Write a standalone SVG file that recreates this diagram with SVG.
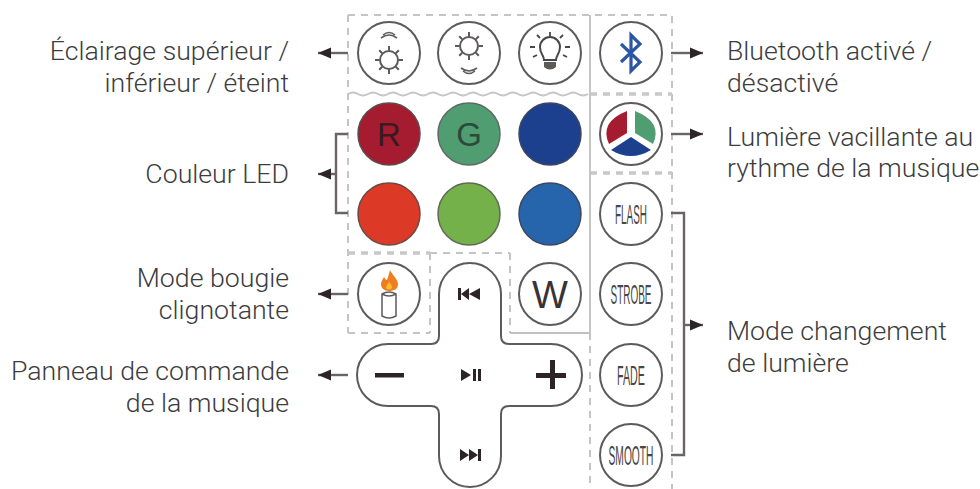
<svg xmlns="http://www.w3.org/2000/svg" width="980" height="489" viewBox="0 0 980 489">
<defs>
<marker id="ah" markerUnits="userSpaceOnUse" markerWidth="14" markerHeight="12" refX="13" refY="6" orient="auto-start-reverse"><path d="M0 0.5L13 6L0 11.5Z" fill="#2c2426"/></marker>
<g id="sunrays" stroke="#5f5a5a" stroke-width="2" fill="none"><circle r="9"/><path d="M0-9.5V-14M0 9.5V14M-9.5 0H-14M9.5 0H14M-6.8-6.8L-9.8-9.8M6.8-6.8L9.8-9.8M-6.8 6.8L-9.8 9.8M6.8 6.8L9.8 9.8"/></g>
</defs>
<style>
text{font-family:Roboto,"Liberation Sans",sans-serif}
.lb{font-size:26.7px;fill:#3c3c3e;font-weight:300}
.e{text-anchor:end}
.c{fill:#fff;stroke:#5f5a5a;stroke-width:2}
.d{fill:none;stroke:#c4c4c4;stroke-width:2;stroke-dasharray:7 6}
.d2{fill:none;stroke:#c8c8c8;stroke-width:3.5;stroke-dasharray:7 6}
.k{fill:none;stroke:#6a6466;stroke-width:2.4}
.a{marker-end:url(#ah)}
.bt{font-family:"Liberation Sans",sans-serif;font-size:28px;fill:#4a4546;text-anchor:middle}
.bl{font-family:"Liberation Sans",sans-serif;fill:#3a3335;text-anchor:middle}
.g{fill:#2c2426}
</style>
<rect width="980" height="489" fill="#fff"/>
<g id="zones">
<path class="d" d="M348 15H672V489M348 15V333M348 333H430M430 253V333M510 253V333M430 253H510M590 333V489"/>
<path class="d2" d="M590 94H672M590 173H672M348 253H430"/>
<path d="M590 15V333M510 333H590" fill="none" stroke="#c0c0c0" stroke-width="1.8"/>
<path d="M348 88q5 -3 10 0t10 0t10 0t10 0t10 0t10 0t10 0t10 0t10 0t10 0t10 0t10 0t10 0t10 0t10 0t10 0t10 0t10 0t10 0t10 0t10 0t10 0t10 0t10 0" transform="translate(0 6)" fill="none" stroke="#c4c4c4" stroke-width="1.8"/>
</g>
<g id="connectors">
<path class="k a" d="M348 53H318"/>
<path class="k" d="M348 134H336V213H348"/>
<path class="k a" d="M336 174H318"/>
<path class="k a" d="M348 294H318"/>
<path class="k a" d="M348 375H318"/>
<path class="k a" d="M671 53H703"/>
<path class="k a" d="M671 134H703"/>
<path class="k" d="M671 213H684V455H671"/>
<path class="k a" d="M684 325H703"/>
</g>
<g id="btn-upper"><circle class="c" cx="389" cy="53" r="31"/><use href="#sunrays" x="389" y="60"/><path d="M381 38Q389 32 397 38M383 35Q389 30 395 35" fill="none" stroke="#5f5a5a" stroke-width="1.6"/></g>
<g id="btn-lower"><circle class="c" cx="469" cy="53" r="31"/><use href="#sunrays" x="469" y="46"/><path d="M461 68Q469 74 477 68M463 71Q469 76 475 71" fill="none" stroke="#5f5a5a" stroke-width="1.6"/></g>
<g id="btn-off"><circle class="c" cx="550" cy="53" r="31"/><path d="M544 60C544 55 540 54 540 47A10 10 0 0 1 560 47C560 54 556 55 556 60Z" fill="none" stroke="#4a4546" stroke-width="2"/><path d="M550 32V36M537 35L540 38M563 35L560 38M530 47H535M570 47H565M533 57L537 55M567 57L563 55" stroke="#4a4546" stroke-width="1.8"/><path d="M544 62H556V67Q550 72 544 67Z" fill="#5f5a5a"/></g>
<g id="btn-bluetooth"><circle class="c" cx="631" cy="53" r="31"/><path d="M621 44L640 62L631 71V35L640 44L621 62" fill="none" stroke="#2a56a4" stroke-width="3.2"/></g>
<g id="btn-r"><circle cx="389" cy="134" r="31" fill="#a51c30" stroke="#5f4a4c" stroke-width="1.5"/><text class="bl" x="389" y="146" font-size="33" style="fill:#3a1a20">R</text></g>
<g id="btn-g"><circle cx="469" cy="134" r="31" fill="#4f9d71" stroke="#5f6a64" stroke-width="1.5"/><text class="bl" x="469" y="146" font-size="33" style="fill:#2c4a3a">G</text></g>
<g id="btn-b"><circle cx="550" cy="134" r="31" fill="#1c3f8e" stroke="#3c4660" stroke-width="1.5"/></g>
<g id="btn-rgb"><circle class="c" cx="631" cy="134" r="31"/>
<path d="M627 111V133L609 144Q599 122 627 111Z" fill="#a51c30"/>
<path d="M635 111V133L653 144Q663 122 635 111Z" fill="#4f9d71"/>
<path d="M631 137L651 150Q631 162 611 150Z" fill="#1c3f8e"/></g>
<g id="btn-red"><circle cx="389" cy="214" r="31" fill="#dc3a27" stroke="#6a4a44" stroke-width="1.5"/></g>
<g id="btn-green"><circle cx="469" cy="214" r="31" fill="#74b14b" stroke="#5f6a54" stroke-width="1.5"/></g>
<g id="btn-blue"><circle cx="550" cy="214" r="31" fill="#2665ab" stroke="#3c4660" stroke-width="1.5"/></g>
<g id="btn-flash"><circle class="c" cx="631" cy="214" r="31"/><text class="bt" x="631" y="224" textLength="32" lengthAdjust="spacingAndGlyphs">FLASH</text></g>
<g id="btn-candle"><circle class="c" cx="389" cy="294" r="31"/><path d="M390 270C392 275 398 279 398 284C398 289 394 291 389 291C384 291 381 288 381 284C381 281 383 279 384 277C385 279 386 280 387 280C388 277 389 274 390 270Z" fill="#ef7d22"/><path d="M389 282C391 284 392 286 392 288Q389 291 386 288C386 286 388 284 389 282Z" fill="#fbc02d"/><path d="M382 294V316Q389 320 396 316V294Q389 290 382 294ZM382 294Q389 298 396 294" fill="none" stroke="#5f5a5a" stroke-width="1.5"/></g>
<g id="btn-music"><path class="c" d="M439 294A31 31 0 0 1 501 294V336Q501 344 509 344H551A31 31 0 0 1 551 406H509Q501 406 501 414V456A31 31 0 0 1 439 456V414Q439 406 431 406H388A31 31 0 0 1 388 344H431Q439 344 439 336Z"/>
<path class="g" d="M458 288H461V300H458ZM461 294L469 288V300ZM469 294L480 288V300Z"/>
<path class="g" d="M461 369L471 375L461 381ZM473 369H476V381H473ZM478 369H481V381H478Z"/>
<path class="g" d="M460 449L469 455L460 461ZM469 449L478 455L469 461ZM478 449H481V461H478Z"/>
<rect class="g" x="375" y="373" width="29" height="4.5"/>
<path class="g" d="M536 373H550V360H555V373H566V378H555V389H550V378H536Z"/>
</g>
<g id="btn-w"><circle class="c" cx="550" cy="294" r="31"/><text class="bl" x="550" y="308" font-size="38">W</text></g>
<g id="btn-strobe"><circle class="c" cx="631" cy="294" r="31"/><text class="bt" x="631" y="304" textLength="41" lengthAdjust="spacingAndGlyphs">STROBE</text></g>
<g id="btn-fade"><circle class="c" cx="631" cy="375" r="31"/><text class="bt" x="631" y="385" textLength="28" lengthAdjust="spacingAndGlyphs">FADE</text></g>
<g id="btn-smooth"><circle class="c" cx="631" cy="455" r="31"/><text class="bt" x="631" y="465" textLength="45" lengthAdjust="spacingAndGlyphs">SMOOTH</text></g>
<g id="labels">
<text class="lb e" x="289" y="60">Éclairage supérieur /</text>
<text class="lb e" x="289" y="92">inférieur / éteint</text>
<text class="lb e" x="289" y="183">Couleur LED</text>
<text class="lb e" x="289" y="287">Mode bougie</text>
<text class="lb e" x="289" y="319">clignotante</text>
<text class="lb e" x="289" y="380">Panneau de commande</text>
<text class="lb e" x="289" y="412">de la musique</text>
<text class="lb" x="727" y="60">Bluetooth activé /</text>
<text class="lb" x="727" y="92">désactivé</text>
<text class="lb" x="727" y="146">Lumière vacillante au</text>
<text class="lb" x="727" y="177">rythme de la musique</text>
<text class="lb" x="727" y="340">Mode changement</text>
<text class="lb" x="727" y="372">de lumière</text>
</g>
</svg>
